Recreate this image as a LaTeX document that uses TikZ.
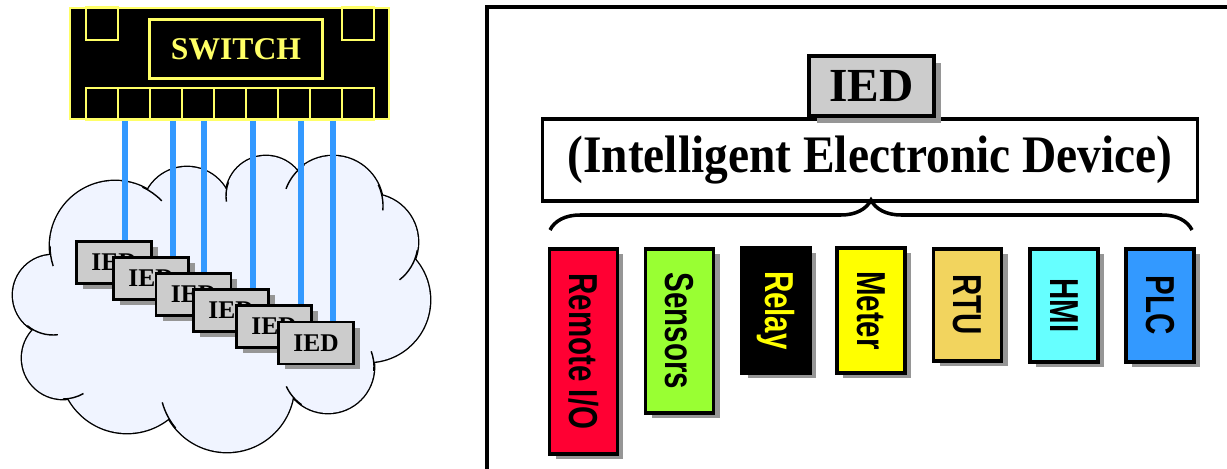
\documentclass[tikz,border=0pt]{standalone}
\usepackage{fontspec}
\setmainfont{Liberation Serif}
\setsansfont{Liberation Sans}
\usetikzlibrary{shadows,decorations.pathreplacing}

\definecolor{swyellow}{HTML}{FFFF66}
\definecolor{linkblue}{HTML}{3399FF}
\definecolor{iedgray}{HTML}{CCCCCC}
\definecolor{shadowgray}{HTML}{969696}
\definecolor{cloudfill}{HTML}{F0F4FF}
\definecolor{remred}{HTML}{FF0033}
\definecolor{sensgreen}{HTML}{99FF33}
\definecolor{relayyellow}{HTML}{FFFF00}
\definecolor{rtuyellow}{HTML}{F2D45E}
\definecolor{hmicyan}{HTML}{66FFFF}
\definecolor{plcblue}{HTML}{3399FF}

\begin{document}
\begin{tikzpicture}[x=0.02cm,y=-0.02cm,
  port/.style={draw=swyellow,line width=1.4pt},
  link/.style={draw=linkblue,line width=3.2pt},
  iedbox/.style={draw,line width=1.5pt,fill=iedgray,inner sep=0pt,
    minimum width=1.5cm,minimum height=0.84cm,
    drop shadow={shadow xshift=0.13cm,shadow yshift=-0.11cm,fill=shadowgray,opacity=1},
    font=\fontsize{14.5}{16}\selectfont\bfseries},
  dev/.style={draw,line width=2.2pt,inner sep=0pt,anchor=north,minimum width=1.36cm,
    drop shadow={shadow xshift=0.12cm,shadow yshift=-0.11cm,fill=shadowgray,opacity=1},
    font=\fontsize{23}{24}\selectfont\sffamily\bfseries}]
  \useasboundingbox (0,0) rectangle (1227,469);

  % network cloud: overlapping puffs, inner outlines covered again
  \def\puffs{115/246/65,187/212/45,266/196/40,333/206/50,370/242/48,368/300/62,
    328/367/46,227/385/67,127/366/67,63/358/41,53/295/40}
  \foreach \cx/\cy/\r in \puffs
    \draw [line width=1.6pt,fill=cloudfill] (\cx,\cy) circle [radius=\r];
  \fill [cloudfill] (115,246) -- (187,212) -- (266,196) -- (333,206) -- (370,242)
    -- (368,300) -- (328,367) -- (227,385) -- (127,366) -- (63,358) -- (53,295) -- cycle;
  \foreach \cx/\cy/\r in \puffs
    \fill [cloudfill] (\cx,\cy) circle [radius=\r];
  \foreach \cx/\cy/\r/\a/\b in {115/246/65/295/316,266/196/40/200/172,333/206/50/235/200,
      333/206/50/335/365,370/242/48/10/52,328/367/46/5/-20,328/367/46/125/155,
      227/385/67/140/165,63/358/41/90/60,53/295/40/130/83,115/246/65/180/162}
    \draw [line width=0.8pt] (\cx,\cy) ++(\a:\r) arc [start angle=\a,end angle=\b,radius=\r];

  % switch with its ports
  \node [name=sw,draw=swyellow,line width=1.4pt,fill=black,inner sep=0pt,
      minimum width=6.38cm,minimum height=2.22cm] at (229.5,63.5) {};
  \draw [port] (86,7) rectangle (118,40);
  \draw [port] (342,7) rectangle (374,40);
  \foreach \i in {0,...,8}
    \draw [port] (86+32*\i,88) rectangle ++(32,32);
  \node [name=swlbl,draw=swyellow,line width=1.4pt,text=swyellow,
      minimum width=3.46cm,minimum height=1.18cm,
      font=\fontsize{18}{20}\selectfont\bfseries] at (236,49) {SWITCH};

  % field devices
  \foreach \i/\x/\y in {1/114/262.5,2/151/278.5,3/193.5/294.5,4/231/310.5,5/274/326.5,6/316/343}
    \node [iedbox,name=ied\i] at (\x,\y) {IED};

  \foreach \i/\x in {1/125,2/173,3/204,4/253,5/301,6/333} {
    \coordinate (s\i) at (\x,121);
    \draw [link] (s\i) -- (s\i |- ied\i.north);
  }

  % right panel
  \draw [line width=2pt] (487,480) |- (1240,7);

  \node [name=desc,draw,line width=2pt,fill=white,inner sep=0pt,
      minimum width=13.1cm,minimum height=1.64cm,
      font=\fontsize{30}{32}\selectfont\bfseries] at (870,160)
    {\raisebox{-0.1cm}{\scalebox{0.9}[1]{(Intelligent Electronic Device)}}};
  \node [name=ied,draw,line width=2pt,fill=iedgray,inner sep=0pt,
      minimum width=2.5cm,minimum height=1.2cm,
      drop shadow={shadow xshift=0.15cm,shadow yshift=-0.15cm,fill=shadowgray,opacity=1},
      font=\fontsize{27}{30}\selectfont\bfseries] at (871.5,86) {\raisebox{-0.05cm}{IED}};

  \coordinate (bl) at (550,230);
  \coordinate (br) at (1192,230);
  \draw [decorate,decoration={brace,amplitude=0.6cm},line width=2pt] (bl) -- (br);

  \node [dev,name=rio,fill=remred,minimum height=4.1cm] at (583.5,247)
    {\rotatebox{-90}{\scalebox{0.73}[1]{Remote I/O}}};
  \node [dev,name=sens,fill=sensgreen,minimum height=3.28cm] at (679.5,247)
    {\rotatebox{-90}{\scalebox{0.73}[1]{Sensors}}};
  \node [dev,name=relay,fill=black,text=relayyellow,minimum height=2.5cm] at (776,246)
    {\rotatebox{-90}{\scalebox{0.73}[1]{Relay}}};
  \node [dev,name=meter,fill=relayyellow,minimum height=2.5cm] at (871,246)
    {\rotatebox{-90}{\scalebox{0.73}[1]{Meter}}};
  \node [dev,name=rtu,fill=rtuyellow,minimum height=2.24cm] at (967.5,247)
    {\rotatebox{-90}{\scalebox{0.73}[1]{RTU}}};
  \node [dev,name=hmi,fill=hmicyan,minimum height=2.26cm] at (1064,247)
    {\rotatebox{-90}{\scalebox{0.73}[1]{HMI}}};
  \node [dev,name=plc,fill=plcblue,minimum height=2.26cm] at (1160,247)
    {\rotatebox{-90}{\scalebox{0.73}[1]{PLC}}};
\end{tikzpicture}
\end{document}
